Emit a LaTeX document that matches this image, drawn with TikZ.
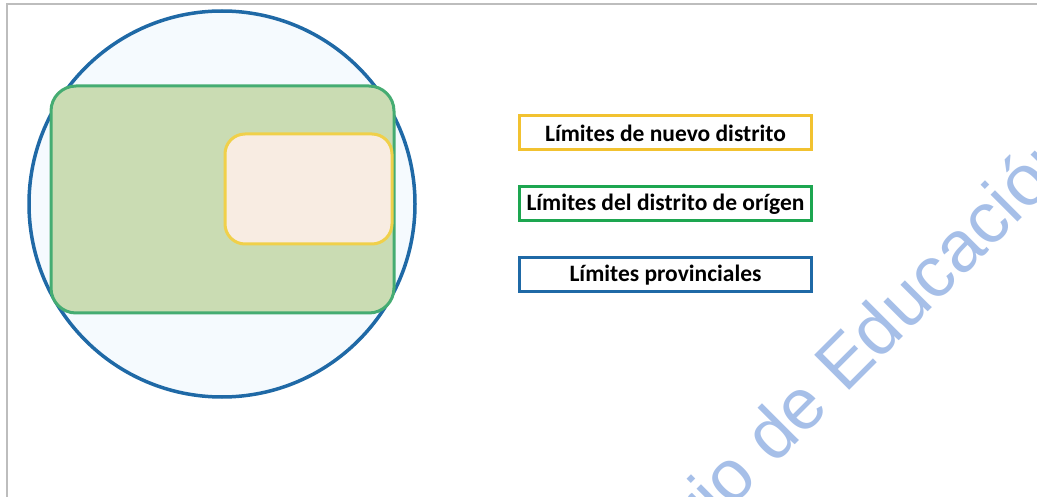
\documentclass[tikz,border=0pt]{standalone}
\usepackage{fontspec}
\setmainfont{Carlito}
\newfontfamily\markfont{Liberation Sans}
\usetikzlibrary{positioning}

\definecolor{provblue}{HTML}{1F69A6}
\definecolor{provfill}{HTML}{F5FAFE}
\definecolor{origgreen}{HTML}{45AC72}
\definecolor{origfill}{HTML}{CADCB3}
\definecolor{legendgreen}{HTML}{1DA650}
\definecolor{newyellow}{HTML}{F0D04A}
\definecolor{newfill}{HTML}{F8ECE2}
\definecolor{legendyellow}{HTML}{F2C230}
\definecolor{markblue}{HTML}{A6BFE8}
\definecolor{framegray}{HTML}{BDBDBD}

\tikzset{
    legendbox/.style={draw, line width=3pt, fill=white, minimum width=292pt,
        minimum height=34pt, inner sep=0pt,
        font=\fontsize{23.5}{26}\selectfont\bfseries},
}

\begin{document}
\begin{tikzpicture}
    [x=1pt, y=-1pt,
     node distance=34pt,
    ]
    \useasboundingbox (0, 0) rectangle (1037, 497);
    \clip (0, 0) rectangle (1037, 497);

    % Frame
    \draw[framegray, line width=2pt] (7, 497) -- (7, 4) -- (1037, 4);

    % Watermark
    \node[markblue, rotate=45, anchor=base east, inner sep=0pt,
          font=\markfont\fontsize{72}{76}\selectfont] (mark) at (1083, 157)
        {Ministerio de Educación};

    % Provincial limits
    \draw[provblue, fill=provfill, line width=3.5pt] (222, 204) circle (193);
    % District of origin
    \draw[origgreen, fill=origfill, line width=3pt, rounded corners=25pt]
        (51, 86) rectangle (394, 313);
    % New district
    \draw[newyellow, fill=newfill, line width=3pt, rounded corners=20pt]
        (225, 134) rectangle (392, 244);

    % Legend
    \node[legendbox, draw=legendyellow] (new) at (665.5, 133)
        {Límites de nuevo distrito};
    \node[legendbox, draw=legendgreen, below=of new] (orig)
        {Límites del distrito de orígen};
    \node[legendbox, draw=provblue, below=of orig] (prov)
        {Límites provinciales};
\end{tikzpicture}
\end{document}
